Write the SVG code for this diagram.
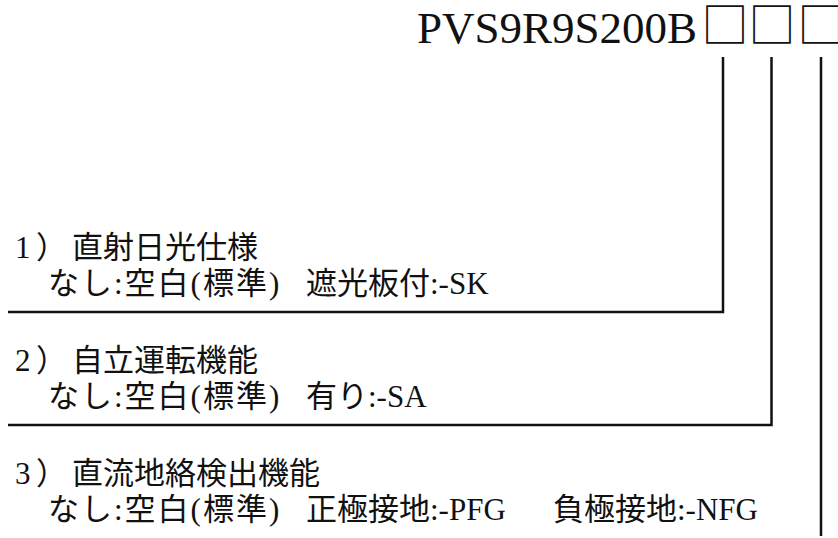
<svg xmlns="http://www.w3.org/2000/svg" width="838" height="538" viewBox="0 0 838 538">
<style>
.t{font-family:"Liberation Serif","Noto Sans CJK JP",serif;font-size:31px;fill:#111}
.sp{letter-spacing:2px}
.title{font-family:"Liberation Serif","Noto Sans CJK JP",serif;font-size:45px;fill:#111}
.box{font-family:"Noto Sans CJK JP",sans-serif;font-size:47px;fill:#111}
.c{fill:none;stroke:#111;stroke-width:2.5}
</style>
<rect width="838" height="538" fill="#fff"/>
<g id="model">
<text class="title" x="417" y="43">PVS9R9S200B<tspan class="box" x="701.5" y="41.5">□</tspan><tspan class="box" x="748.5" y="41.5">□</tspan><tspan class="box" x="797.5" y="41.5">□</tspan></text>
</g>
<g id="opt1">
<text class="t" x="15" y="258">1<tspan x="36">）</tspan><tspan x="72">直射日光仕様</tspan></text>
<text class="t" x="48" y="294"><tspan class="sp">なし:空白(標準)</tspan><tspan x="306">遮光板付:-SK</tspan></text>
</g>
<g id="opt2">
<text class="t" x="15" y="371">2<tspan x="36">）</tspan><tspan x="72">自立運転機能</tspan></text>
<text class="t" x="48" y="407"><tspan class="sp">なし:空白(標準)</tspan><tspan x="306">有り:-SA</tspan></text>
</g>
<g id="opt3">
<text class="t" x="15" y="484">3<tspan x="36">）</tspan><tspan x="72">直流地絡検出機能</tspan></text>
<text class="t" x="48" y="520"><tspan class="sp">なし:空白(標準)</tspan><tspan x="306">正極接地:-PFG</tspan><tspan x="553">負極接地:-NFG</tspan></text>
</g>
<g id="connectors">
<polyline class="c" points="8,312 723,312 723,57"/>
<polyline class="c" points="8,425 771.5,425 771.5,57"/>
<line class="c" x1="821" y1="57" x2="821" y2="536"/>
</g>
</svg>
